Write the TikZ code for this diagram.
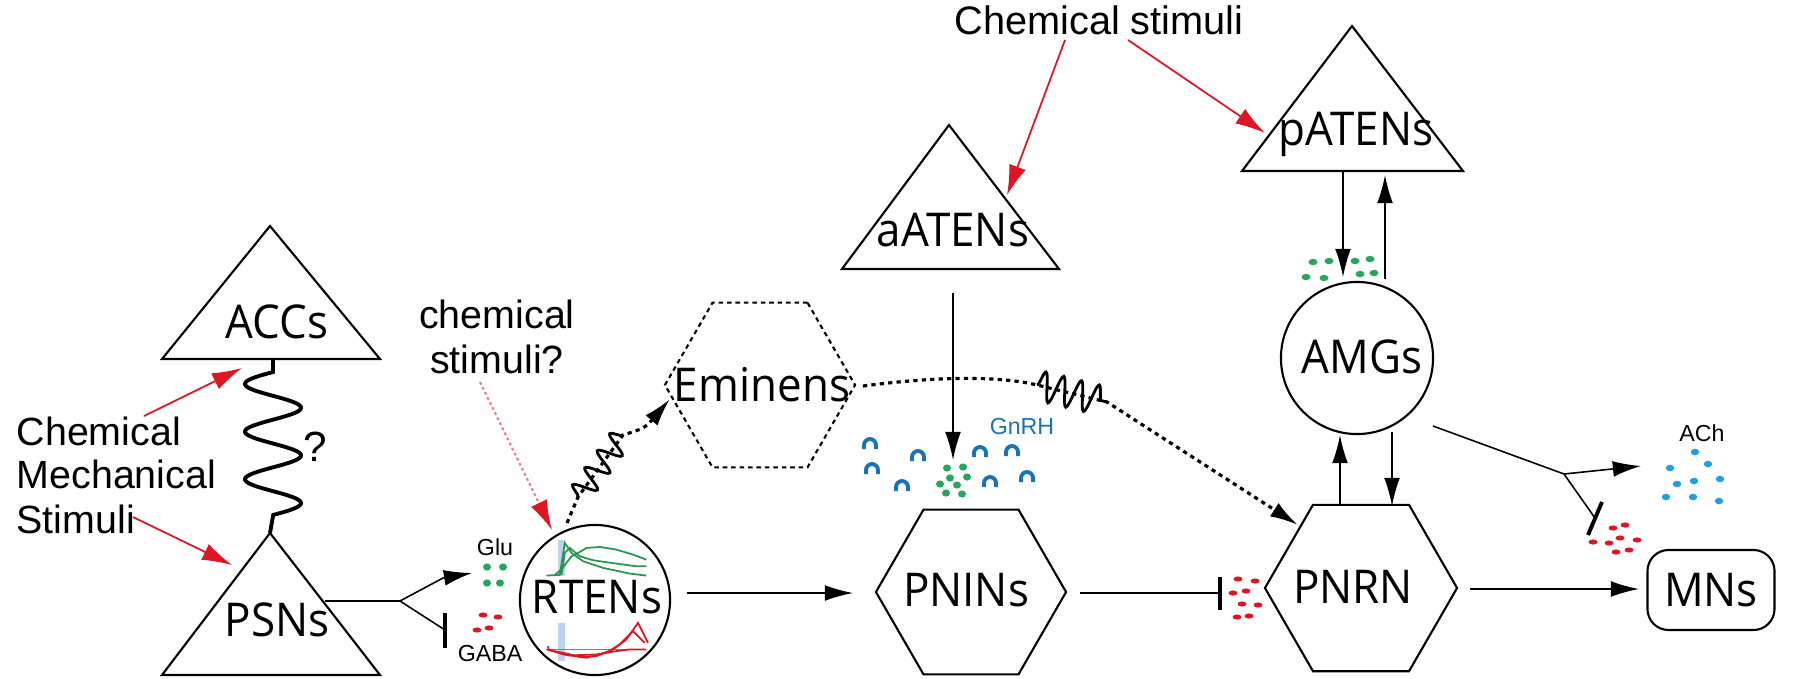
\documentclass[tikz,border=0pt]{standalone}
\usepackage{fontspec}
\usepackage{graphicx}
\setmainfont{Liberation Sans}
\newfontfamily\labfont{Open Sans}
\usetikzlibrary{arrows.meta,shapes.geometric,decorations.pathmorphing,calc}
\definecolor{gr}{RGB}{38,166,90}
\definecolor{rd}{RGB}{222,22,36}
\definecolor{bl}{RGB}{25,115,180}
\definecolor{achc}{RGB}{30,160,225}
\definecolor{lbar}{RGB}{190,212,236}
\definecolor{tgreen}{RGB}{40,150,80}
\newcommand{\lab}[1]{\scalebox{1}[1.06]{\labfont\fontsize{12.5}{14}\selectfont #1}}
\begin{document}
\begin{tikzpicture}[x=0.01cm,y=-0.01cm,
  tri/.style={draw,line width=0.6pt},
  hexa/.style={regular polygon,regular polygon sides=6,draw,line width=0.6pt,minimum size=1.9cm,inner sep=0pt},
  cell/.style={circle,draw,line width=0.6pt,inner sep=0pt},
  ar/.style={line width=0.45pt,-{Latex[length=8pt,width=4.5pt]}},
  rar/.style={rd,line width=0.5pt,-{Latex[length=8.5pt,width=5pt]}},
  dotl/.style={line width=0.9pt,dash pattern=on 1.2pt off 1.2pt},
  wavy/.style={line width=0.8pt,decorate,decoration={snake,segment length=6pt,amplitude=3.3pt}},
  bar/.style={line width=1.1pt},
  txt/.style={font=\fontsize{11.2}{12.5}\selectfont,inner sep=0pt},
  small/.style={font=\fontsize{6.6}{7}\selectfont,inner sep=0pt}]
\useasboundingbox (0,0) rectangle (1796,678);

% ---------- triangles ----------
\coordinate (accA) at (270,226); \coordinate (accL) at (162,359); \coordinate (accR) at (380,359); \coordinate (accB) at (273,359);
\draw[tri] (accL) -- (accA) -- (accR) -- cycle;
\node (acc) at (277,322) {\lab{ACCs}};

\coordinate (psnA) at (270,533); \coordinate (psnL) at (162,675); \coordinate (psnR) at (380,675);
\draw[tri] (psnL) -- (psnA) -- (psnR) -- cycle;
\node (psn) at (277,620) {\lab{PSNs}};

\coordinate (aatA) at (949,125); \coordinate (aatL) at (842,269); \coordinate (aatR) at (1059,269);
\draw[tri] (aatL) -- (aatA) -- (aatR) -- cycle;
\node (aat) at (953,230) {\lab{aATENs}};

\coordinate (patA) at (1352,26); \coordinate (patL) at (1242,171); \coordinate (patR) at (1463,171);
\draw[tri] (patL) -- (patA) -- (patR) -- cycle;
\node (pat) at (1356,134) {\lab{pATENs}};

% ---------- other nodes ----------
\node[cell,minimum size=1.5cm] (rt) at (595,600) {};
\node (rtl) at (597,597) {\lab{RTENs}};
\node[cell,minimum size=1.52cm] (amg) at (1357,358) {};
\node (amgl) at (1362,357) {\lab{AMGs}};
\node[hexa,dash pattern=on 1.3pt off 1.1pt] (emi) at (760,385) {};
\node (emil) at (762,385) {\lab{Eminens}};
\node[hexa] (pnin) at (971,592) {};
\node (pninl) at (966,590) {\lab{PNINs}};
\node[hexa,minimum size=1.92cm] (pnrn) at (1361,588) {};
\node (pnrnl) at (1353,587) {\lab{PNRN}};
\node[draw,line width=0.6pt,rounded corners=6pt,minimum width=1.27cm,minimum height=0.8cm] (mn) at (1711,590) {\lab{MNs}};

% ---------- texts ----------
\node[txt,anchor=base west] (s1) at (16,445) {Chemical};
\node[txt,anchor=base west] (s2) at (16,488) {Mechanical};
\node[txt,anchor=base west] (s3) at (16,533) {Stimuli};
\node[txt,anchor=base] (c1) at (497,328) {chemical};
\node[txt,anchor=base] (c2) at (497,373) {stimuli?};
\node[txt,anchor=base,font=\fontsize{11.3}{13}\selectfont] (cs) at (1099,34) {Chemical stimuli};
\node[txt,font=\fontsize{12}{13}\selectfont] (q) at (315,447) {?};
\node[small] (glu) at (495,547) {Glu};
\node[small] (gaba) at (490,653) {GABA};
\node[small,text=bl] (gnrh) at (1022,427) {GnRH};
\node[small] (ach) at (1702,433) {ACh};

% ---------- RTENs traces ----------
\begin{scope}[shift={(430,300)},x=0.003333cm,y=-0.003333cm]
\fill[lbar] (385,720) rectangle (405,830);
\fill[lbar] (385,970) rectangle (405,1085);
\draw[tgreen,line width=0.5pt] (350,828) -- (390,826) -- (405,730) -- (425,760) -- (460,785) -- (520,805) -- (600,822) -- (650,828);
\draw[tgreen,line width=0.5pt] (375,826) -- (395,810) -- (425,770) -- (445,760) -- (470,745) -- (510,742) -- (560,750) -- (610,765) -- (650,780);
\draw[tgreen,line width=0.5pt] (395,826) -- (405,760) -- (420,745) -- (450,770) -- (490,782) -- (560,792) -- (620,800) -- (650,800);
\draw[gray,line width=0.3pt] (350,1050) -- (650,1050);
\draw[rd,line width=0.5pt] (355,1040) -- (355,1052) -- (400,1060) -- (450,1072) -- (500,1070) -- (550,1050) -- (590,1020) -- (625,970) -- (640,1000) -- (655,1030);
\draw[rd,line width=0.5pt] (355,1050) -- (400,1065) -- (470,1075) -- (530,1060) -- (570,1035) -- (610,995) -- (645,1030);
\draw[rd,line width=0.5pt] (360,1052) -- (420,1068) -- (500,1065) -- (560,1055) -- (600,1050) -- (650,1050);
\end{scope}

% ---------- transmitter dots ----------
\foreach \px/\py in {487/567,503/567,487/583,500/583}
  \fill[gr] (\px,\py) ellipse[x radius=4,y radius=3.6];
\foreach \px/\py in {483/615,498/617,477/630,489/628}
  \fill[rd] (\px,\py) ellipse[x radius=4.5,y radius=2.6];
\foreach \px/\py in {947/468,963/467,950/478,967/477,940/484,957/485,946/493,962/494}
  \fill[gr] (\px,\py) ellipse[x radius=4,y radius=3.6];
\foreach \px/\py in {870/445,918/457,872/470,902/487,980/453,1012/452,990/483,1027/478}
  \draw[bl,line width=1.1pt] (\px-6,\py+4) -- (\px-6,\py) arc[start angle=180,end angle=360,radius=6] -- (\px+6,\py+4);
\foreach \px/\py in {1238/579,1255/581,1233/593,1246/591,1242/604,1258/605,1237/617,1249/616}
  \fill[rd] (\px,\py) ellipse[x radius=4.5,y radius=2.6];
\foreach \px/\py in {1313/262,1329/261,1355/261,1370/259,1306/277,1324/278,1360/274,1374/273}
  \fill[gr] (\px,\py) ellipse[x radius=4.5,y radius=3.2];
\foreach \px/\py in {1613/528,1625/525,1593/542,1609/543,1620/538,1637/540,1616/552,1629/550}
  \fill[rd] (\px,\py) ellipse[x radius=4.5,y radius=2.6];
\foreach \px/\py in {1695/452,1670/468,1708/464,1677/484,1694/481,1720/479,1666/497,1693/497,1719/501}
  \fill[achc] (\px,\py) ellipse[x radius=4.2,y radius=3.3];

% ---------- connectors ----------
% stimuli to ACCs / PSNs
\coordinate (sA) at (144,416); \coordinate (accT) at (242,368);
\draw[rar] (sA) -- (accT);
\coordinate (sB) at (133,517); \coordinate (psnT) at (232,565);
\draw[rar] (sB) -- (psnT);
% coil ACCs - PSNs
\draw[line width=1.1pt] (accB) -- (273,372) -- plot[domain=0:1,samples=160,smooth] ({273-28*sin(1080*\x)},{372+143*\x}) -- (psnA);
% PSNs branch
\coordinate (psnE) at (325,601); \coordinate (br1) at (400,601);
\coordinate (gluT) at (472,573); \coordinate (gabaB) at (445,630);
\draw[line width=0.45pt] (psnE) -- (br1);
\draw[ar] (br1) -- (443,578) -- (gluT);
\draw[line width=0.45pt] (br1) -- (gabaB);
\draw[bar] (445,613) -- (445,648);
% chemical stimuli? to RTENs
\coordinate (cq) at (480,382); \coordinate (rtT) at (552,530);
\draw[rd!55,line width=0.6pt,dash pattern=on 0.8pt off 0.8pt,-{Latex[length=8.5pt,width=5pt,color=rd]}] (cq) -- (rtT);
% RTENs to Eminens
\coordinate (rtO) at (567,523); \coordinate (wv0) at (578,497); \coordinate (wv1) at (623,435); \coordinate (emiT) at (670,399);
\draw[dotl,-{Latex[length=8pt,width=4.5pt]}] (rtO) -- (wv0) -- (wv1) .. controls (645,428) .. (emiT);
\draw[wavy] (wv0) -- (wv1);
% RTENs to PNINs
\coordinate (rtE) at (687,593); \coordinate (pninT) at (853,593);
\draw[ar] (rtE) -- (pninT);
% aATENs to PNINs dots
\coordinate (aatB) at (953,293); \coordinate (aatT) at (953,460);
\draw[ar] (aatB) -- (aatT);
% Eminens to PNRN
\coordinate (emiO) at (863,386); \coordinate (wv2) at (1037,385); \coordinate (wv3) at (1107,402); \coordinate (pnrnT) at (1298,525);
\draw[dotl,-{Latex[length=8pt,width=4.5pt]}] (emiO) .. controls (940,376) and (1000,376) .. (wv2) -- (wv3) -- (pnrnT);
\draw[wavy,decoration={snake,segment length=5.2pt,amplitude=4.2pt}] (wv2) -- (wv3);
% PNINs inhibits PNRN
\coordinate (pninE) at (1080,593); \coordinate (pnrnB) at (1220,593);
\draw[line width=0.45pt] (pninE) -- (pnrnB);
\draw[bar] (1220,577) -- (1220,610);
% PNRN to MNs
\coordinate (pnrnE) at (1470,589); \coordinate (mnT) at (1639,589);
\draw[ar] (pnrnE) -- (mnT);
% PNRN <-> AMGs
\draw[ar] (1340,504) -- (1340,435);
\draw[ar] (1392,432) -- (1392,506);
% pATENs <-> AMGs
\draw[ar] (1343,171) -- (1343,277);
\draw[ar] (1385,279) -- (1385,175);
% AMGs branch
\coordinate (amgE) at (1433,426); \coordinate (br2) at (1564,474);
\coordinate (achT) at (1641,466); \coordinate (inhB) at (1595,518);
\draw[line width=0.45pt] (amgE) -- (br2);
\draw[ar] (br2) -- (achT);
\draw[line width=0.45pt] (br2) -- (inhB);
\draw[bar] (1588,535) -- (1602,502);
% Chemical stimuli arrows
\coordinate (csA) at (1065,40); \coordinate (csB) at (1128,40);
\coordinate (aatT2) at (1007,195); \coordinate (patT) at (1265,133);
\draw[rar] (csA) -- (aatT2);
\draw[rar] (csB) -- (patT);
\end{tikzpicture}
\end{document}
